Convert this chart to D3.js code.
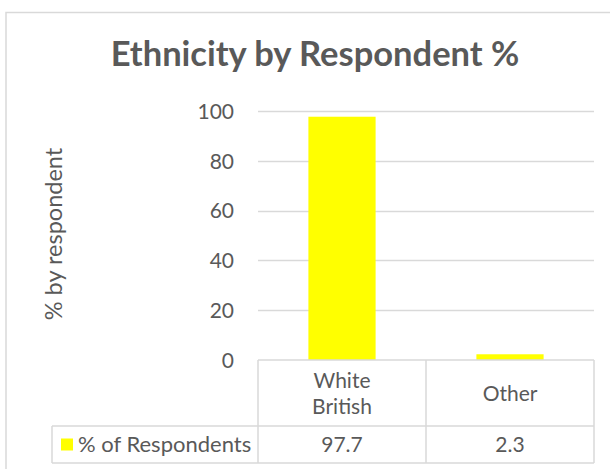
<!DOCTYPE html>
<html>
<head>
<meta charset="utf-8">
<script src="https://cdn.jsdelivr.net/npm/d3@7"></script>
<style>
    body { margin: 0; background: #fff; }
    text { font-family: Lato, "Open Sans", sans-serif; fill: #595959; }
</style>
</head>
<body>
<div id="chart"></div>
<script>
// data
var categories = ["White British", "Other"];
var values = [97.7, 2.3];
var seriesName = "% of Respondents";
var yTicks = [0, 20, 40, 60, 80, 100];

var width = 610;
var height = 469;
var margin = { left: 258, right: 16, top: 111, bottom: 109 };

var svg = d3.select('#chart')
    .append('svg')
    .attr('width', width)
    .attr('height', height);

// chart border (right and bottom edges fall outside the picture)
svg.append('rect')
    .attr('x', 6).attr('y', 12.5)
    .attr('width', 620).attr('height', 480)
    .attr('fill', 'none')
    .attr('stroke', '#d9d9d9')
    .attr('stroke-width', 1.5);

svg.append('text')
    .attr('x', 315).attr('y', 66)
    .attr('text-anchor', 'middle')
    .style('font-size', '34.5px')
    .style('font-weight', 'bold')
    .text('Ethnicity by Respondent %');

var x = d3.scaleBand()
    .domain(categories)
    .range([margin.left, width - margin.right]);
var xBar = d3.scaleBand()
    .domain(categories)
    .range([margin.left, width - margin.right])
    .paddingInner(0.6)
    .paddingOuter(0.3);
var y = d3.scaleLinear()
    .domain([0, 100])
    .range([height - margin.bottom, margin.top]);

// gridlines
svg.append('g')
    .selectAll('line')
    .data(yTicks.slice(1))
    .enter()
    .append('line')
    .attr('x1', margin.left).attr('x2', width - margin.right)
    .attr('y1', d => Math.round(y(d)) + 0.5)
    .attr('y2', d => Math.round(y(d)) + 0.5)
    .attr('stroke', '#d9d9d9')
    .attr('stroke-width', 1.5);

// y axis labels
var yAxis = svg.append('g')
    .attr('transform', 'translate(234,0)')
    .call(d3.axisLeft(y).tickValues(yTicks).tickSize(0).tickPadding(0));
yAxis.select('.domain').remove();
yAxis.selectAll('text')
    .style('font-size', '21px')
    .attr('dy', '0.35em')
    .style('font-family', 'Lato, "Open Sans", sans-serif')
    .attr('fill', '#595959');

svg.append('text')
    .attr('transform', 'translate(62,' + 234 + ') rotate(-90)')
    .attr('text-anchor', 'middle')
    .style('font-size', '23.5px')
    .text('% by respondent');

// bars
svg.append('g')
    .selectAll('rect')
    .data(values)
    .enter()
    .append('rect')
    .attr('x', (d, i) => xBar(categories[i]))
    .attr('width', xBar.bandwidth())
    .attr('y', d => y(d))
    .attr('height', d => y(0) - y(d))
    .attr('fill', '#ffff00');

// data table
var row1 = y(0);
var row2 = 426;
var row3 = 463;
var tableLeft = 52;
var tg = svg.append('g')
    .attr('stroke', '#d9d9d9')
    .attr('stroke-width', 1.5)
    .attr('fill', 'none');
tg.append('line').attr('x1', margin.left).attr('x2', width - margin.right)
    .attr('y1', row1).attr('y2', row1);
tg.append('line').attr('x1', tableLeft).attr('x2', width - margin.right)
    .attr('y1', row2).attr('y2', row2);
tg.append('line').attr('x1', tableLeft).attr('x2', width - margin.right)
    .attr('y1', row3).attr('y2', row3);
tg.append('line').attr('x1', tableLeft).attr('x2', tableLeft)
    .attr('y1', row2).attr('y2', row3);
var edges = categories.map(c => x(c)).concat([width - margin.right]);
tg.selectAll('line.v')
    .data(edges)
    .enter()
    .append('line')
    .attr('class', 'v')
    .attr('x1', d => d).attr('x2', d => d)
    .attr('y1', row1).attr('y2', row3);

// category labels
var catLines = [["White", "British"], ["Other"]];
categories.forEach(function (c, i) {
    var lines = catLines[i];
    var cy = (row1 + row2) / 2 + 1;
    lines.forEach(function (l, j) {
        svg.append('text')
            .attr('x', x(c) + x.bandwidth() / 2)
            .attr('y', cy + (j - (lines.length - 1) / 2) * 26)
            .attr('dy', '0.35em')
            .attr('text-anchor', 'middle')
            .style('font-size', '21px')
            .text(l);
    });
    svg.append('text')
        .attr('x', x(c) + x.bandwidth() / 2)
        .attr('y', (row2 + row3) / 2)
        .attr('dy', '0.35em')
        .attr('text-anchor', 'middle')
        .style('font-size', '21px')
        .text(values[i]);
});

// legend key
svg.append('rect')
    .attr('x', 61).attr('y', (row2 + row3) / 2 - 6)
    .attr('width', 12).attr('height', 12)
    .attr('fill', '#ffff00');
svg.append('text')
    .attr('x', 78)
    .attr('y', (row2 + row3) / 2)
    .attr('dy', '0.35em')
    .style('font-size', '22px')
    .text(seriesName);
</script>
</body>
</html>
